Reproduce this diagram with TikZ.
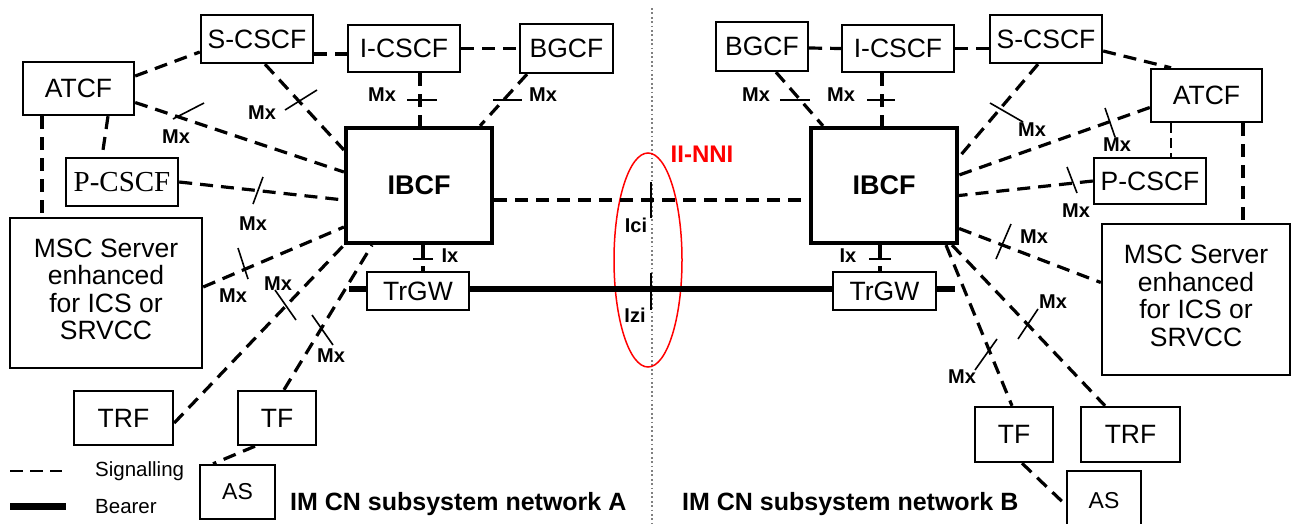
\documentclass[tikz,border=0pt]{standalone}
\usepackage{fontspec}
\setmainfont{Liberation Sans}
\newfontfamily\serifP{Liberation Serif}
\newcommand{\msctext}{\raisebox{5pt}{\begin{tabular}{@{}c@{}}MSC Server\\enhanced\\for ICS or\\SRVCC\end{tabular}}}
\begin{document}
\begin{tikzpicture}[x=1pt,y=-1pt,
  box/.style={draw, line width=2.4pt, inner sep=0pt, font=\fontsize{26.5}{27.5}\selectfont, align=center},
  ibcf/.style={draw, line width=4.2pt, inner sep=0pt, font=\fontsize{27}{30}\bfseries\selectfont},
  sig/.style={line width=3.2pt, dash pattern=on 13pt off 8pt},
  sigthin/.style={line width=2pt, dash pattern=on 10pt off 5pt},
  bearer/.style={line width=6.5pt},
  tick/.style={line width=1.6pt},
  ttick/.style={line width=2.6pt},
  lbl/.style={font=\fontsize{20}{21}\bfseries\selectfont, inner sep=0pt},
  legend/.style={font=\fontsize{20.5}{22}\selectfont, inner sep=0pt},
  netlbl/.style={font=\fontsize{25}{27}\bfseries\selectfont, inner sep=0pt, anchor=base west},
]
\useasboundingbox (0,0) rectangle (1292,523);

% divider and II-NNI
\draw[gray, line width=1.8pt, dash pattern=on 1.8pt off 2.6pt] (652,8) -- (652,523);
\draw[red, line width=1.5pt] (648,260) ellipse [x radius=34, y radius=107];
\node[text=red, font=\fontsize{24}{26}\bfseries\selectfont, inner sep=0pt] (nni) at (702,154) {II-NNI};

% left network nodes
\node[box, minimum width=112pt, minimum height=48pt] (scscfL) at (257,39) {S-CSCF};
\node[box, minimum width=111pt, minimum height=53pt] (atcfL) at (78.5,88.5) {ATCF};
\node[box, minimum width=112pt, minimum height=48pt] (pcscfL) at (122,182) {\serifP\fontsize{29}{30}\selectfont P-CSCF};
\node[box, minimum width=192pt, minimum height=150pt] (mscL) at (106,293) {\msctext};
\node[box, minimum width=112pt, minimum height=47pt] (icscfL) at (404,48.5) {I-CSCF};
\node[box, minimum width=93pt, minimum height=49pt] (bgcfL) at (566.5,48.5) {BGCF};
\node[ibcf, minimum width=146pt, minimum height=115pt] (ibcfL) at (419,185.5) {IBCF};
\node[box, minimum width=102pt, minimum height=38pt] (trgwL) at (418,291) {TrGW};
\node[box, minimum width=99pt, minimum height=54pt] (trfL) at (123.5,418) {TRF};
\node[box, minimum width=78pt, minimum height=54pt] (tfL) at (277,418) {TF};
\node[box, minimum width=75pt, minimum height=54pt, font=\fontsize{23}{25}\selectfont] (asL) at (237.5,492) {AS};

% right network nodes
\node[box, minimum width=92pt, minimum height=49pt] (bgcfR) at (762,46.5) {BGCF};
\node[box, minimum width=112pt, minimum height=47pt] (icscfR) at (898,48.5) {I-CSCF};
\node[ibcf, minimum width=146pt, minimum height=115pt] (ibcfR) at (884,185.5) {IBCF};
\node[box, minimum width=112pt, minimum height=48pt] (scscfR) at (1046,39) {S-CSCF};
\node[box, minimum width=111pt, minimum height=53pt] (atcfR) at (1206.5,95.5) {ATCF};
\node[box, minimum width=112pt, minimum height=46pt] (pcscfR) at (1150,181) {P-CSCF};
\node[box, minimum width=188pt, minimum height=151pt] (mscR) at (1196,299.5) {\msctext};
\node[box, minimum width=103pt, minimum height=38pt] (trgwR) at (884.5,291) {TrGW};
\node[box, minimum width=78pt, minimum height=55pt] (tfR) at (1014,434.5) {TF};
\node[box, minimum width=99pt, minimum height=55pt] (trfR) at (1130.5,434.5) {TRF};
\node[box, minimum width=74pt, minimum height=59pt, font=\fontsize{23}{25}\selectfont] (asR) at (1104,500.5) {AS};

% bearer
\coordinate (bL) at (349,289);
\coordinate (bR) at (955,289);
\draw[bearer] (bL) -- ([yshift=2pt]trgwL.west);
\draw[bearer] ([yshift=2pt]trgwL.east) -- ([yshift=2pt]trgwR.west);
\draw[bearer] ([yshift=2pt]trgwR.east) -- (bR);
\draw[ttick] (651,273) -- (651,310);
\node[lbl] (izi) at (635,315) {Izi};

% left signalling
\draw[sig] ([yshift=12.5pt]atcfL.east) -- ([yshift=-13pt]scscfL.west);
\draw[sig] ([yshift=-15pt]scscfL.east) -- ([yshift=-5.5pt]icscfL.west);
\draw[sig] (icscfL.east) -- (bgcfL.west);
\draw[sig] ([xshift=8pt]scscfL.south) -- ([yshift=35.5pt]ibcfL.west);
\draw[tick] (285,110) -- (317,90);
\node[lbl] at (262,113) {Mx};
\draw[sig] ([yshift=-14pt]atcfL.east) -- ([yshift=13.5pt]ibcfL.west);
\draw[tick] (173,119) -- (204,103);
\node[lbl] at (176,137) {Mx};
\draw[sig] ([xshift=-36.5pt]atcfL.south) -- ([xshift=-64pt]mscL.north);
\draw[sig] ([xshift=29.5pt]atcfL.south) -- ([xshift=-20pt]pcscfL.north);
\draw[sig] (pcscfL.east) -- ([yshift=-14.5pt]ibcfL.west);
\draw[tick] (253,204) -- (263,177);
\node[lbl] at (253,224) {Mx};
\draw[sig] ([yshift=6pt]mscL.east) -- ([yshift=-41.5pt]ibcfL.west);
\draw[tick] (238,248) -- (248,279);
\node[lbl] at (233,296) {Mx};
\draw[sig] ([yshift=-5pt]trfL.east) -- (ibcfL.south west);
\draw[tick] (275,290) -- (296,320);
\node[lbl] at (278,284) {Mx};
\draw[sig] ([xshift=7pt]tfL.north) -- ([xshift=-47pt]ibcfL.south);
\draw[tick] (312,315) -- (333,345);
\node[lbl] at (331,356) {Mx};
\draw[sig] ([xshift=-22pt]tfL.south) -- ([xshift=-24.5pt]asL.north);
\draw[sig] ([xshift=16pt]icscfL.south) -- ([xshift=1pt]ibcfL.north);
\draw[ttick] (407,100) -- (437,100);
\node[lbl] at (382,95) {Mx};
\draw[sig] ([xshift=-39.5pt]bgcfL.south) -- ([xshift=61pt]ibcfL.north);
\draw[line width=2pt] (493,100) -- (522,100);
\node[lbl] at (543,95) {Mx};
\draw[sig] ([xshift=4pt]ibcfL.south) -- ([xshift=5pt]trgwL.north);
\draw[ttick] (413,259) -- (433,259);
\node[lbl] at (450,256) {Ix};

% inter-network signalling
\draw[sig] ([yshift=-14.5pt]ibcfL.east) -- ([yshift=-14.5pt]ibcfR.west);
\draw[ttick] (651,182) -- (651,218);
\node[lbl] (ici) at (636,225) {Ici};

% right signalling
\draw[sig] ([yshift=-1.5pt]bgcfR.east) -- (icscfR.west);
\draw[sig] (icscfR.east) -- ([yshift=-9.5pt]scscfR.west);
\draw[sig] ([yshift=-12pt]scscfR.east) -- ([xshift=-35.5pt]atcfR.north);
\draw[sig] ([xshift=14pt]bgcfR.south) -- ([xshift=-61pt]ibcfR.north);
\draw[line width=2pt] (780,100) -- (810,100);
\node[lbl] at (756,95) {Mx};
\draw[sig] ([xshift=-16pt]icscfR.south) -- ([xshift=-2pt]ibcfR.north);
\draw[ttick] (867,100) -- (895,100);
\node[lbl] at (841,95) {Mx};
\draw[sig] ([xshift=-8pt]scscfR.south) -- ([yshift=28.5pt]ibcfR.east);
\draw[tick] (990,103) -- (1023,122);
\node[lbl] at (1032,130) {Mx};
\draw[sig] ([yshift=-12pt]atcfR.west) -- ([yshift=10.5pt]ibcfR.east);
\draw[tick] (1105,108) -- (1115,137);
\node[lbl] at (1117,145) {Mx};
\draw[sig] (pcscfR.west) -- ([yshift=-10pt]ibcfR.east);
\draw[tick] (1067,167) -- (1077,193);
\node[lbl] at (1076,211) {Mx};
\draw[sigthin] ([xshift=-35.5pt]atcfR.south) -- ([xshift=21pt]pcscfR.north);
\draw[sig] ([xshift=36.5pt]atcfR.south) -- ([xshift=47pt]mscR.north);
\draw[sig] ([yshift=-43pt]ibcfR.east) -- ([yshift=17pt]mscR.west);
\draw[tick] (996,259) -- (1011,224);
\node[lbl] at (1034,237) {Mx};
\draw[sig] ([xshift=-7pt]ibcfR.south east) -- ([xshift=-25.5pt]trfR.north);
\draw[tick] (1018,339) -- (1038,309);
\node[lbl] at (1053,302) {Mx};
\draw[sig] ([xshift=62pt]ibcfR.south) -- ([xshift=-2pt]tfR.north);
\draw[tick] (975,370) -- (997,339);
\node[lbl] at (962,377) {Mx};
\draw[sig] ([xshift=8pt]tfR.south) -- ([yshift=-4.5pt]asR.west);
\draw[sig] ([xshift=-4pt]ibcfR.south) -- ([xshift=-4.5pt]trgwR.north);
\draw[ttick] (869,259) -- (891,259);
\node[lbl] at (848,256) {Ix};

% legend
\draw[line width=2pt, dash pattern=on 13pt off 7pt] (10,471) -- (62,471);
\node[legend, anchor=base west] (lsig) at (95,476) {Signalling};
\draw[line width=7pt] (10,506) -- (66,506);
\node[legend, anchor=base west] (lbear) at (95,513) {Bearer};

% network labels
\node[netlbl] (netA) at (290,510) {IM CN subsystem network A};
\node[netlbl] (netB) at (682,510) {IM CN subsystem network B};
\end{tikzpicture}
\end{document}
